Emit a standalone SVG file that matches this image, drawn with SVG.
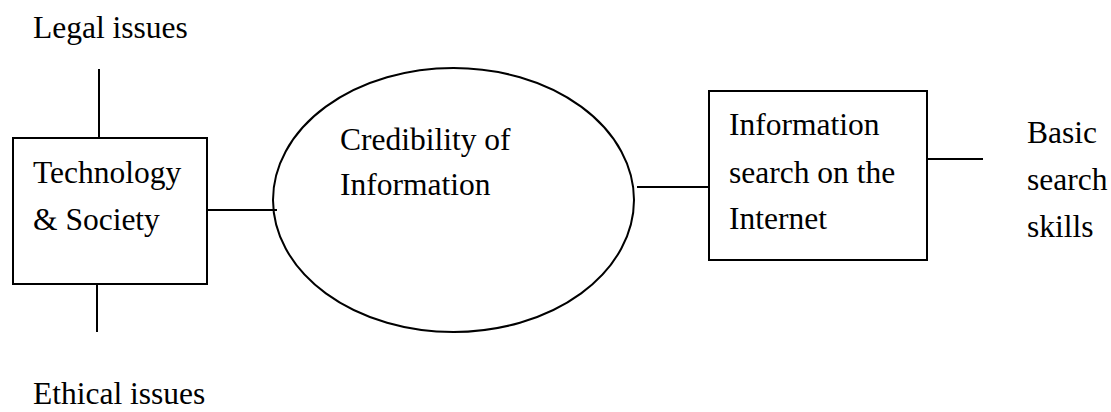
<svg xmlns="http://www.w3.org/2000/svg" width="1111" height="412" viewBox="0 0 1111 412">
<style>
.t{font-family:"Liberation Serif","Times New Roman",serif;font-size:31.5px;fill:#000}
.s{fill:none;stroke:#000;stroke-width:2}
</style>
<rect width="1111" height="412" fill="#fff"/>
<g id="connectors">
<line class="s" x1="99" y1="69" x2="99" y2="138"/>
<line class="s" x1="97" y1="284" x2="97" y2="332"/>
<line class="s" x1="207" y1="210" x2="277" y2="210"/>
<line class="s" x1="637" y1="187" x2="709" y2="187"/>
<line class="s" x1="927" y1="159" x2="983" y2="159"/>
</g>
<g id="legal"><text class="t" x="33" y="38">Legal issues</text></g>
<g id="ethical"><text class="t" x="33" y="404">Ethical issues</text></g>
<g id="tech">
<rect class="s" x="13" y="138" width="194" height="146"/>
<text class="t" x="33" y="183">Technology</text>
<text class="t" x="33" y="230">&amp; Society</text>
</g>
<g id="cred">
<ellipse class="s" cx="453.5" cy="200" rx="180.5" ry="132"/>
<text class="t" x="340" y="150">Credibility of</text>
<text class="t" x="340" y="195">Information</text>
</g>
<g id="search">
<rect class="s" x="709" y="91" width="218" height="169"/>
<text class="t" x="729" y="135">Information</text>
<text class="t" x="729" y="183">search on the</text>
<text class="t" x="729" y="229">Internet</text>
</g>
<g id="basic">
<text class="t" x="1027" y="143">Basic</text>
<text class="t" x="1027" y="190">search</text>
<text class="t" x="1027" y="237">skills</text>
</g>
</svg>
